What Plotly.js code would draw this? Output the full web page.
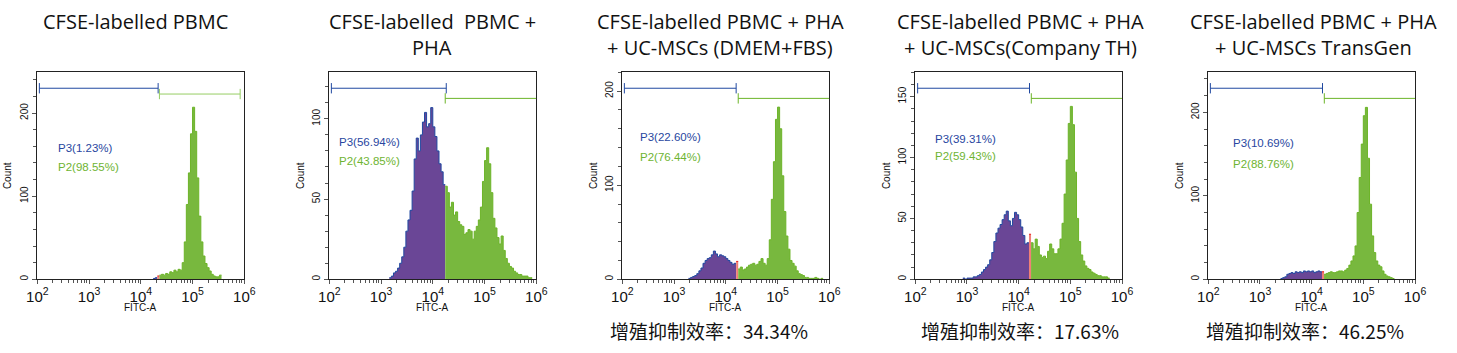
<!DOCTYPE html>
<html>
<head>
<meta charset="utf-8">
<script src="https://cdn.plot.ly/plotly-3.0.1.min.js"></script>
<style>
html,body{margin:0;padding:0;background:#fff;}
#chart{width:1457px;height:353px;}
</style>
</head>
<body>
<div id="chart"></div>
<script>
// ---------------- DATA ----------------
// Histogram bins: log10(FITC-A) bin centres step 0.04, starting at the given centre
const binStep = 0.04;

const p1Start = 4.26;
const p1Counts = [1,2,4,5,6,5,7,6,9,8,11,9,12,11,20,45,90,128,175,207,178,122,76,45,28,19,14,10,6,4,3,3,5];

const p2Start = 3.18;
const p2Counts = [1,2,4,5,7,10,14,20,30,37,43,55,75,88,80,90,98,104,95,97,107,95,89,80,72,67,59,
  58,54,45,48,40,42,36,34,33,28,29,31,30,25,30,33,37,45,61,74,82,72,54,38,32,26,22,27,18,13,10,8,7,5,4,3,3,2,2,2,1,1];

const p3Start = 3.30;
const p3Counts = [1,2,3,4,6,9,12,17,20,22,23,26,30,27,24,26,25,24,22,20,18,16,17,19,
  11,13,10,11,13,15,16,17,15,16,19,22,17,15,22,42,85,125,170,183,160,110,72,46,32,20,17,14,9,6,5,4,2,2,1,1,1,2,1,0,1];

const p4Start = 2.94;
const p4Counts = [1,0,1,1,1,2,2,3,4,6,8,10,12,16,22,31,38,42,45,49,53,56,48,44,50,55,53,49,43,36,29,30,37,
  30,25,33,27,20,18,19,17,23,29,25,21,21,25,33,46,70,98,128,142,127,88,50,31,20,15,11,9,8,6,5,4,3,3,2,2,2,1];

const p5Start = 3.42;
const p5Counts = [1,2,3,6,7,8,7,9,8,9,8,10,9,10,9,10,8,9,10,9,9,
  6,7,8,9,8,8,9,10,10,9,11,13,17,22,28,40,80,122,162,196,206,145,90,52,32,22,17,15,10,6,4,3,2,1];

// Gates (log10 FITC-A): P3 [start,end], P2 [start,end]
const p3Gates = [[2.04,4.335],[2.04,4.26],[2.04,4.20],[2.045,4.21],[2.04,4.21]];
const p2Gates = [[4.36,5.92],[4.24,6.0],[4.24,6.0],[4.245,6.0],[4.245,6.0]];
const p3Labels = ["P3(1.23%)","P3(56.94%)","P3(22.60%)","P3(39.31%)","P3(10.69%)"];
const p2Labels = ["P2(98.55%)","P2(43.85%)","P2(76.44%)","P2(59.43%)","P2(88.76%)"];

const titleLine1 = ["CFSE-labelled PBMC","CFSE-labelled  PBMC +","CFSE-labelled PBMC + PHA","CFSE-labelled PBMC + PHA","CFSE-labelled PBMC + PHA"];
const titleLine2 = ["","PHA","+ UC-MSCs (DMEM+FBS)","+ UC-MSCs(Company TH)","+ UC-MSCs TransGen"];
const footNotes = ["","","增殖抑制效率：34.34%","增殖抑制效率：17.63%","增殖抑制效率：46.25%"];

const yMax = [249,129,220,170,248];
const yDtick = [100,50,100,50,100];
const yMinor = [20,10,20,10,20];

// ---------------- LAYOUT CONFIG ----------------
const W = 1457, H = 353;
const plotLeft = [37.3, 329.3, 622.3, 915.3, 1208.3];
const plotRight = [244.3, 536.3, 829.3, 1122.0, 1415.0];
const plotTop = 72.3, plotBottom = 279.3;
const titleX = [135, 432, 720, 1020, 1313];
const footX = [0, 0, 709, 1020, 1305];
const labelX = [2.37, 2.155, 2.31, 2.335, 2.44];
const p3LabelY = [0.634, 0.665, 0.689, 0.676, 0.657];
const p2LabelY = [0.543, 0.573, 0.592, 0.597, 0.558];
const blueGateY = 0.923;
const greenGateY = [0.895, 0.874, 0.874, 0.874, 0.874];

const cPurple = 'rgb(106,70,150)', cBlue = 'rgb(32,72,160)';
const cGreen = 'rgb(120,184,62)', cGreenLine = 'rgb(108,180,40)';
const cGapFill = 'rgb(240,128,118)', cGapLine = 'rgb(232,30,30)';
const cLabelBlue = 'rgb(40,70,160)', cLabelGreen = 'rgb(110,180,50)';

const starts = [p1Start,p2Start,p3Start,p4Start,p5Start];
const counts = [p1Counts,p2Counts,p3Counts,p4Counts,p5Counts];

const traces = [];
const layout = {
  width: W, height: H,
  margin: {l:0,r:0,t:0,b:0},
  paper_bgcolor: '#fff', plot_bgcolor: '#fff',
  showlegend: false,
  annotations: [], shapes: []
};

function px2paperX(px){ return px / W; }
function px2paperY(py){ return (H - py) / H; }

for (let i = 0; i < 5; i++) {
  const sfx = i === 0 ? '' : String(i+1);
  const xa = 'x' + sfx, ya = 'y' + sfx;
  const start = starts[i], cnt = counts[i];
  const blueEnd = p3Gates[i][1], greenStart = p2Gates[i][0];
  const groups = {p3: [], gap: [], p2: []};
  cnt.forEach((v, k) => {
    const c = start + k*binStep;
    let g;
    if (c > greenStart) g = 'p2';
    else if (c < blueEnd) g = 'p3';
    else g = 'gap';
    groups[g].push(k);
  });
  const style = {
    p3: {fill: cPurple, line: cBlue},
    gap: {fill: cGapFill, line: cGapLine},
    p2: {fill: cGreen, line: cGreenLine}
  };
  ['p3','gap','p2'].forEach(g => {
    const idx = groups[g];
    if (!idx.length) return;
    const xs = [], ys = [];
    idx.forEach(k => { const c = start + k*binStep; xs.push(Math.pow(10, c - binStep/2)); ys.push(cnt[k]); });
    const last = idx[idx.length-1];
    xs.push(Math.pow(10, start + last*binStep + binStep/2)); ys.push(cnt[last]);
    traces.push({
      type: 'scatter', mode: 'lines', x: xs, y: ys, xaxis: xa, yaxis: ya,
      line: {shape: 'hv', color: style[g].line, width: 1},
      fill: 'tozeroy', fillcolor: style[g].fill, hoverinfo: 'skip'
    });
  });

  const axCommon = {
    showline: true, linecolor: '#222', linewidth: 1, mirror: true,
    showgrid: false, zeroline: false, ticks: 'outside', tickcolor: '#555',
  };
  layout['xaxis' + sfx] = Object.assign({}, axCommon, {
    type: 'log', range: [2, 6], dtick: 1, exponentformat: 'power',
    domain: [px2paperX(plotLeft[i]), px2paperX(plotRight[i])],
    anchor: ya, ticklen: 4,
    tickfont: {family: 'Liberation Sans Narrow, Arial Narrow, Arial, sans-serif', size: 12, color: '#111'},
    minor: {ticks: 'outside', ticklen: 3, tickcolor: '#555', dtick: 'D1'}
  });
  layout['yaxis' + sfx] = Object.assign({}, axCommon, {
    range: [0, yMax[i]], dtick: yDtick[i], tickangle: -90,
    domain: [px2paperY(plotBottom), px2paperY(plotTop)],
    anchor: xa, ticklen: 4,
    tickfont: {family: 'Liberation Sans Narrow, Arial, sans-serif', size: 10, color: '#111'},
    minor: {ticks: 'outside', ticklen: 3, tickcolor: '#555', dtick: yMinor[i]}
  });

  // gates
  const xr = xa, yr = ya + ' domain';
  const capH = 0.025;
  const bg = p3Gates[i], gg = p2Gates[i];
  const lineBlue = {color: cBlue, width: 1};
  const lineGreen = {color: i === 0 ? 'rgb(150,205,100)' : cGreenLine, width: 1};
  layout.shapes.push({type:'line', xref:xr, yref:yr, x0:Math.pow(10,bg[0]), x1:Math.pow(10,bg[1]), y0:blueGateY, y1:blueGateY, line:lineBlue});
  layout.shapes.push({type:'line', xref:xr, yref:yr, x0:Math.pow(10,bg[0]), x1:Math.pow(10,bg[0]), y0:blueGateY-capH, y1:blueGateY+capH, line:lineBlue});
  layout.shapes.push({type:'line', xref:xr, yref:yr, x0:Math.pow(10,bg[1]), x1:Math.pow(10,bg[1]), y0:blueGateY-capH, y1:blueGateY+capH, line:lineBlue});
  layout.shapes.push({type:'line', xref:xr, yref:yr, x0:Math.pow(10,gg[0]), x1:Math.pow(10,gg[1]), y0:greenGateY[i], y1:greenGateY[i], line:lineGreen});
  layout.shapes.push({type:'line', xref:xr, yref:yr, x0:Math.pow(10,gg[0]), x1:Math.pow(10,gg[0]), y0:greenGateY[i]-capH, y1:greenGateY[i]+capH, line:lineGreen});
  if (gg[1] < 6) {
    layout.shapes.push({type:'line', xref:xr, yref:yr, x0:Math.pow(10,gg[1]), x1:Math.pow(10,gg[1]), y0:greenGateY[i]-capH, y1:greenGateY[i]+capH, line:lineGreen});
  }

  // gate labels
  const lblFont = {family: 'Liberation Sans, Arial, sans-serif', size: 11.5};
  layout.annotations.push({xref: xa, yref: ya + ' domain', x: labelX[i], y: p3LabelY[i], xanchor: 'left', yanchor: 'middle',
    text: p3Labels[i], showarrow: false, font: Object.assign({color: cLabelBlue}, lblFont)});
  layout.annotations.push({xref: xa, yref: ya + ' domain', x: labelX[i], y: p2LabelY[i], xanchor: 'left', yanchor: 'middle',
    text: p2Labels[i], showarrow: false, font: Object.assign({color: cLabelGreen}, lblFont)});

  // axis titles
  const axFont = {family: 'Liberation Sans, Arial, sans-serif', size: 10, color: '#111'};
  layout.annotations.push({xref:'paper', yref:'paper', x: px2paperX(plotLeft[i]-29), y: px2paperY((plotTop+plotBottom)/2),
    text: 'Count', textangle: -90, showarrow: false, xanchor: 'center', yanchor: 'middle', font: axFont});
  layout.annotations.push({xref:'paper', yref:'paper', x: px2paperX((plotLeft[i]+plotRight[i])/2), y: px2paperY(307),
    text: 'FITC-A', showarrow: false, xanchor: 'center', yanchor: 'middle', font: axFont});

  // titles
  const tFont = {family: 'Open Sans, Lato, sans-serif', size: 20, color: '#111'};
  layout.annotations.push({xref:'paper', yref:'paper', x: px2paperX(titleX[i]), y: px2paperY(22),
    text: titleLine1[i], showarrow: false, xanchor: 'center', yanchor: 'middle', font: tFont});
  if (titleLine2[i]) {
    layout.annotations.push({xref:'paper', yref:'paper', x: px2paperX(titleX[i]), y: px2paperY(47),
      text: titleLine2[i], showarrow: false, xanchor: 'center', yanchor: 'middle', font: tFont});
  }
  if (footNotes[i]) {
    layout.annotations.push({xref:'paper', yref:'paper', x: px2paperX(footX[i]), y: px2paperY(330),
      text: footNotes[i], showarrow: false, xanchor: 'center', yanchor: 'middle',
      font: {family: 'Noto Sans CJK SC, sans-serif', size: 19, color: '#111'}});
  }
}

Plotly.newPlot('chart', traces, layout, {staticPlot: true, displayModeBar: false});
</script>
</body>
</html>
